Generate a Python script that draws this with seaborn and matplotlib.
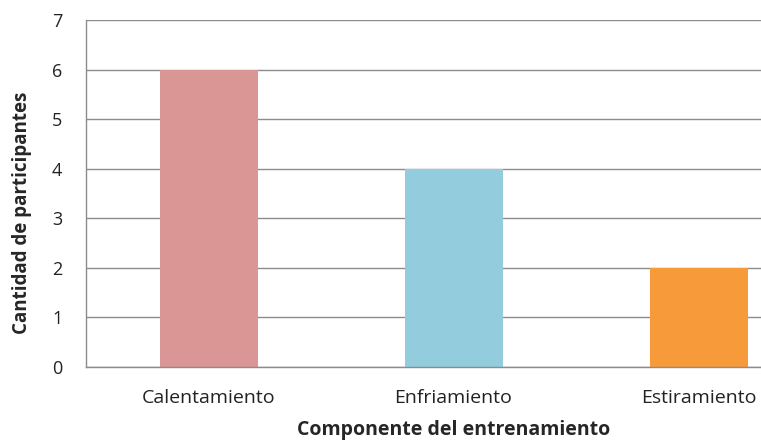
import matplotlib
matplotlib.use("Agg")
import pandas as pd
import seaborn as sns
from matplotlib import pyplot as plt
from matplotlib.ticker import FixedLocator

componentes = ["Calentamiento", "Enfriamiento", "Estiramiento"]
participantes = [6, 4, 2]
colores = ["#D99694", "#93CDDD", "#F79A3A"]

sns.set_style("white")
plt.rcParams["font.family"] = ["Open Sans", "DejaVu Sans"]

df = pd.DataFrame({"componente": componentes, "cantidad": participantes})

fig = plt.figure(figsize=(7.61, 4.40), dpi=100)
# plot area runs past the right edge, as in the reference
ax = fig.add_axes([86 / 761, 1 - 367 / 440, 735 / 761, 347 / 440])

sns.barplot(ax=ax, data=df, x="componente", y="cantidad", hue="componente",
            palette=colores, width=0.4, saturation=1, legend=False,
            linewidth=0, zorder=2)

ax.set_xlim(-0.5, 2.5)
ax.set_ylim(0, 7)
ax.set_yticks(range(0, 8))
ax.yaxis.grid(True, color="#8c8c8c", lw=1, zorder=0)
ax.set_axisbelow(True)

for side in ["top", "right"]:
    ax.spines[side].set_visible(False)
for side in ["left", "bottom"]:
    ax.spines[side].set_color("#8c8c8c")
    ax.spines[side].set_linewidth(1)

# category ticks at boundaries
ax.xaxis.set_minor_locator(FixedLocator([-0.5, 0.5, 1.5, 2.5]))
ax.tick_params(axis="x", which="major", length=0, pad=16, labelsize=14, colors="#222222")
ax.tick_params(axis="x", which="minor", length=7, color="#8c8c8c", direction="out")
ax.tick_params(axis="y", length=7, color="#8c8c8c", direction="out", labelsize=13,
               colors="#222222", pad=10)

ax.set_xlabel("Componente del entrenamiento", fontsize=14, fontweight="bold", labelpad=9)
ax.set_ylabel("Cantidad de participantes", fontsize=13.5, fontweight="bold")
ax.yaxis.set_label_coords(-0.073, 0.444)

fig.savefig("out.png", dpi=100)
